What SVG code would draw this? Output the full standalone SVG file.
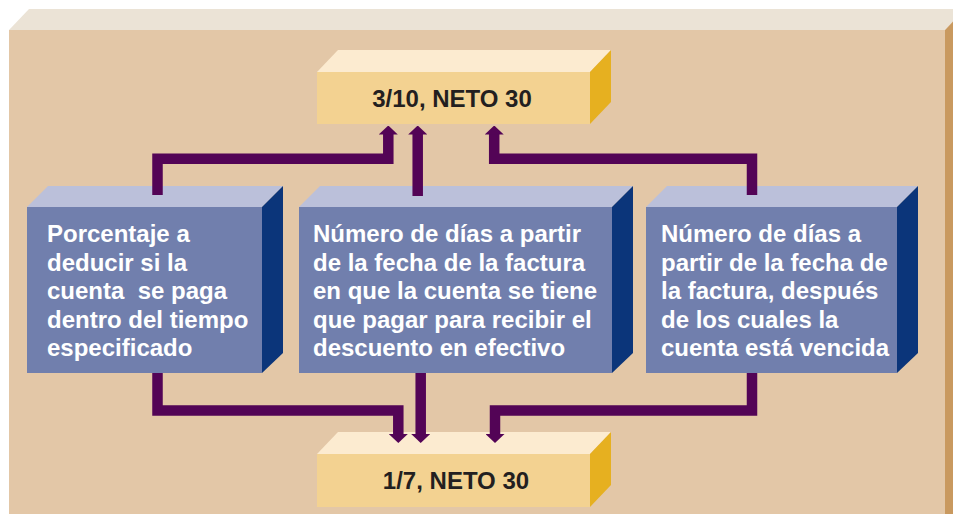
<svg xmlns="http://www.w3.org/2000/svg" width="953" height="514" viewBox="0 0 953 514">
<defs>
<style>
.slab-front{fill:#e3c7a7}
.slab-top{fill:#ebe3d6}
.slab-side{fill:#c9995f}
.y-front{fill:#f3d291}
.y-top{fill:#fcebd0}
.y-side{fill:#e6b020}
.b-front{fill:#717fad}
.b-top{fill:#bbc0da}
.b-side{fill:#0b357a}
.ytxt{font-family:"Liberation Sans",Arial,Helvetica,sans-serif;font-weight:bold;font-size:24px;fill:#231f20;text-anchor:middle}
.btxt{font-family:"Liberation Sans",Arial,Helvetica,sans-serif;font-weight:bold;font-size:24px;fill:#ffffff;white-space:pre}
.conn{fill:none;stroke:#530456;stroke-width:10.5;stroke-linejoin:miter;marker-end:url(#ah)}
</style>
<marker id="ah" viewBox="0 0 9 19" refX="0.5" refY="9.5" markerWidth="9" markerHeight="19" markerUnits="userSpaceOnUse" orient="auto">
<path d="M0,0 L9,9.5 L0,19 Z" fill="#530456"/>
</marker>
</defs>
<rect width="953" height="514" fill="#ffffff"/>
<g id="background">
<polygon class="slab-top" points="9,30 29,9 965,9 945,30"/>
<rect class="slab-front" x="9" y="30" width="936" height="490"/>
<polygon class="slab-side" points="945,30 965,9 965,520 945,520"/>
</g>
<g id="node-top">
<polygon class="y-top" points="317,72 338,50 611,50 590,72"/>
<polygon class="y-side" points="590,72 611,50 611,102 590,124"/>
<rect class="y-front" x="317" y="72" width="273" height="52"/>
<text class="ytxt" x="452" y="107">3/10, NETO 30</text>
</g>
<g id="node-bottom">
<polygon class="y-top" points="317,454 338,432 611,432 590,454"/>
<polygon class="y-side" points="590,454 611,432 611,485 590,507"/>
<rect class="y-front" x="317" y="454" width="273" height="53"/>
<text class="ytxt" x="456" y="489">1/7, NETO 30</text>
</g>
<g id="node-left">
<polygon class="b-top" points="27,207 48,186 283,186 262,207"/>
<polygon class="b-side" points="262,207 283,186 283,353 262,373"/>
<rect class="b-front" x="27" y="207" width="235" height="166"/>
<text class="btxt"><tspan x="47" y="242">Porcentaje a</tspan><tspan x="47" y="270.5">deducir si la</tspan><tspan x="47" y="299">cuenta  se paga</tspan><tspan x="47" y="327.5">dentro del tiempo</tspan><tspan x="47" y="356">especificado</tspan></text>
</g>
<g id="node-middle">
<polygon class="b-top" points="299,207 320,186 633,186 612,207"/>
<polygon class="b-side" points="612,207 633,186 633,353 612,373"/>
<rect class="b-front" x="299" y="207" width="313" height="166"/>
<text class="btxt"><tspan x="313" y="242">Número de días a partir</tspan><tspan x="313" y="270.5">de la fecha de la factura</tspan><tspan x="313" y="299">en que la cuenta se tiene</tspan><tspan x="313" y="327.5">que pagar para recibir el</tspan><tspan x="313" y="356">descuento en efectivo</tspan></text>
</g>
<g id="node-right">
<polygon class="b-top" points="646,207 667,186 918,186 897,207"/>
<polygon class="b-side" points="897,207 918,186 918,353 897,373"/>
<rect class="b-front" x="646" y="207" width="251" height="166"/>
<text class="btxt"><tspan x="661" y="242">Número de días a</tspan><tspan x="661" y="270.5">partir de la fecha de</tspan><tspan x="661" y="299">la factura, después</tspan><tspan x="661" y="327.5">de los cuales la</tspan><tspan x="661" y="356">cuenta está vencida</tspan></text>
</g>
<g id="connectors">
<path class="conn" d="M157.5,195 V158.8 H388.3 V134"/>
<path class="conn" d="M417.7,196 V134"/>
<path class="conn" d="M752,195 V158.8 H494.2 V134"/>
<path class="conn" d="M157.5,373 V410.5 H398.3 V434.5"/>
<path class="conn" d="M420.7,373 V434.5"/>
<path class="conn" d="M752,373 V410.5 H495 V434.5"/>
</g>
</svg>
